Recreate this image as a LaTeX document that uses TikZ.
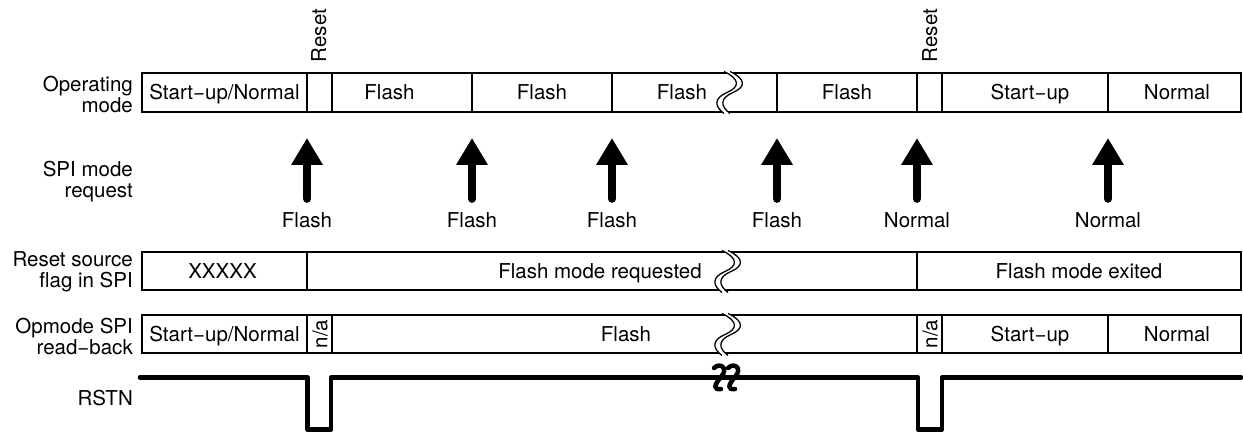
\documentclass[tikz,border=0pt]{standalone}
\usepackage{fontspec}
\setmainfont{TeX Gyre Heros}
\usetikzlibrary{arrows.meta}
\begin{document}
\begin{tikzpicture}[x=1pt,y=-1pt,
  fnt/.style={font=\fontsize{20.5}{21}\selectfont},
  lbl/.style={fnt, anchor=east, align=right, inner sep=0pt},
  txt/.style={fnt, anchor=base, inner sep=0pt},
  rtxt/.style={fnt, rotate=90, inner sep=0pt},
  boxline/.style={line width=1.6pt},
  req/.style={line width=8pt, line cap=round, shorten <=13pt, -{Triangle[width=30pt,length=27pt]}},
  sig/.style={line width=4.5pt, line join=round, line cap=round},
  brkline/.style={line width=1.3pt},
  wavebrk/.pic={
    \fill[white] (0,-1.5) .. controls (16,6) and (16,14) .. (3,19.5) .. controls (-10,25) and (-10,33) .. (0,40.5)
       -- (6,40.5) .. controls (-4,33) and (-4,25) .. (9,19.5) .. controls (22,14) and (22,6) .. (6,-1.5) -- cycle;
    \draw[brkline] (0,-1.5) .. controls (16,6) and (16,14) .. (3,19.5) .. controls (-10,25) and (-10,33) .. (0,40.5);
    \draw[brkline] (6,-1.5) .. controls (22,6) and (22,14) .. (9,19.5) .. controls (-4,25) and (-4,33) .. (6,40.5);
  },
  sigbrk/.pic={
    \draw[line width=4.5pt, line cap=round] (-5,-9) .. controls (1,-15) and (10,-9) .. (2,0) .. controls (-5,8) and (-6,13) .. (2,12);
  }
]
\useasboundingbox (0,0) rectangle (1243,433);

% ---------- left labels ----------
\node[lbl] (lop) at (133,94.5) {Operating\\mode};
\node[lbl] (lspi) at (133,182) {SPI mode\\request};
\node[lbl] (lrs) at (133,271.5) {Reset source\\flag in SPI};
\node[lbl] (lom) at (133,336) {Opmode SPI\\read\char"2212 back};
\node[lbl, anchor=base east] (lrst) at (133,405) {RSTN};

% ---------- row 1: operating mode ----------
\draw[boxline] (142,73) rectangle (1241,112);
\foreach \x in {307,332,472,612,777,917,942,1108}
  \draw[boxline] (\x,73) -- (\x,112);
\pic at (724,73) {wavebrk};
\node[txt] (o1) at (224.5,100) {Start\char"2212 up/Normal};
\node[txt] (o2) at (389.5,100) {Flash};
\node[txt] (o3) at (542,100) {Flash};
\node[txt] (o4) at (682,100) {Flash};
\node[txt] (o5) at (847,100) {Flash};
\node[txt] (o6) at (1030,100) {Start\char"2212 up};
\node[txt] (o7) at (1177,100) {Normal};
\node[rtxt, anchor=base] (rs1) at (326,35.5) {Reset};
\node[rtxt, anchor=base] (rs2) at (937,35.5) {Reset};

% ---------- row 2: SPI mode requests ----------
\node[txt] (q1) at (307,227) {Flash};
\node[txt] (q2) at (472,227) {Flash};
\node[txt] (q3) at (612,227) {Flash};
\node[txt] (q4) at (777,227) {Flash};
\node[txt] (q5) at (917,227) {Normal};
\node[txt] (q6) at (1108,227) {Normal};
\coordinate (t1) at (307,138);
\coordinate (t2) at (472,138);
\coordinate (t3) at (612,138);
\coordinate (t4) at (777,138);
\coordinate (t5) at (917,138);
\coordinate (t6) at (1108,138);
\foreach \i in {1,...,6}
  \draw[req] (q\i.north) -- (t\i);

% ---------- row 3: reset source flag ----------
\draw[boxline] (142,252) rectangle (1241,290);
\foreach \x in {307,917}
  \draw[boxline] (\x,252) -- (\x,290);
\pic at (722,252) {wavebrk};
\node[txt] (f1) at (222.5,278.5) {XXXXX};
\node[txt] (f2) at (600,278.5) {Flash mode requested};
\node[txt] (f3) at (1079,278.5) {Flash mode exited};

% ---------- row 4: opmode read-back ----------
\draw[boxline] (142,315) rectangle (1241,353);
\foreach \x in {307,332,917,942,1108}
  \draw[boxline] (\x,315) -- (\x,353);
\pic at (722,315) {wavebrk};
\node[txt] (m1) at (224.5,341.5) {Start\char"2212 up/Normal};
\node[rtxt] (na1) at (320,334) {n/a};
\node[txt] (m2) at (626,341.5) {Flash};
\node[rtxt] (na2) at (930,334) {n/a};
\node[txt] (m3) at (1030,341.5) {Start\char"2212 up};
\node[txt] (m4) at (1177,341.5) {Normal};

% ---------- RSTN ----------
\draw[sig] (140,377.5) -- (307.5,377.5) -- (307.5,429.5) -- (331,429.5) -- (331,377.5)
  -- (918,377.5) -- (918,429.5) -- (942,429.5) -- (942,377.5) -- (1241,377.5);
\pic at (719,377) {sigbrk};
\pic at (733,377) {sigbrk};
\end{tikzpicture}
\end{document}
